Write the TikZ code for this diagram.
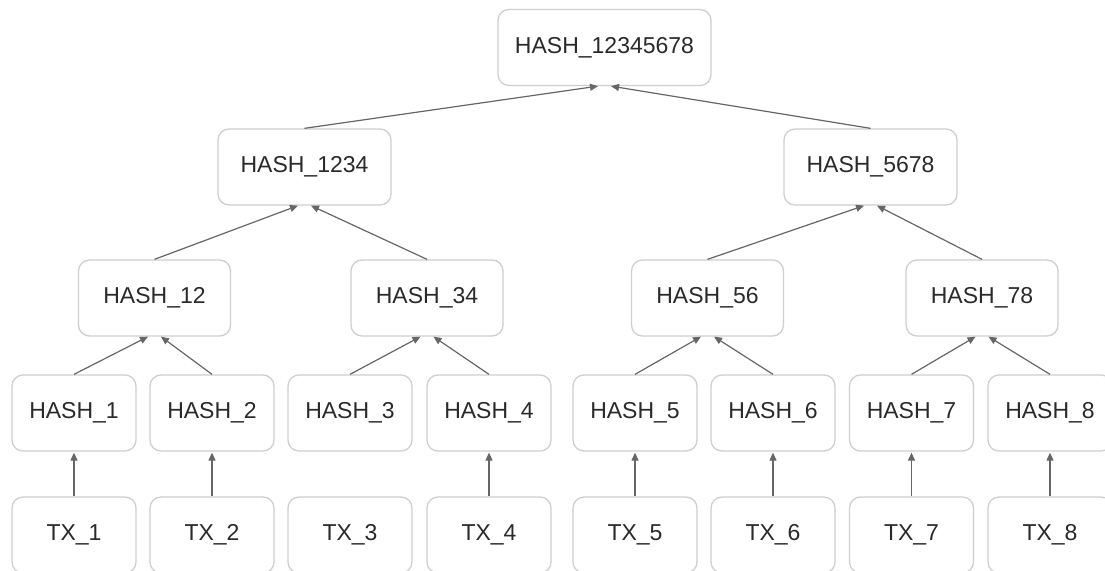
\documentclass[tikz,border=0pt]{standalone}
\usepackage{fontspec}
\setmainfont{Liberation Sans}
\usetikzlibrary{arrows.meta}
\definecolor{boxline}{HTML}{CFCFCF}
\definecolor{edgeline}{HTML}{666666}
\definecolor{txt}{HTML}{2A2A2A}
\begin{document}
\begin{tikzpicture}[x=1pt,y=-1pt,
  hbox/.style={draw=boxline,line width=1.3pt,rounded corners=11pt,fill=white,
    inner sep=0pt,minimum height=76pt,text=txt,font=\fontsize{23}{27}\selectfont},
  lvl0/.style={hbox,minimum width=213pt},
  lvl1/.style={hbox,minimum width=173pt},
  lvl2/.style={hbox,minimum width=152pt},
  lvl3/.style={hbox,minimum width=124pt},
  arr/.style={draw=edgeline,line width=1.2pt,-{Triangle[length=8pt,width=7pt]}}]
\useasboundingbox (0,0) rectangle (1105,570);
\fill[white] (0,0) rectangle (1105,570);
% nodes
\node[lvl0] (r) at (604.5,47.5) {HASH\_12345678};
\node[lvl1] (a) at (304.5,167) {HASH\_1234};
\node[lvl1] (b) at (870.5,167) {HASH\_5678};
\node[lvl2] (h12) at (154.5,298) {HASH\_12};
\node[lvl2] (h34) at (427,298) {HASH\_34};
\node[lvl2] (h56) at (707.5,298) {HASH\_56};
\node[lvl2] (h78) at (982,298) {HASH\_78};
\foreach \i/\x in {1/74,2/212,3/350,4/489,5/635,6/773,7/911.5,8/1050}{
  \node[lvl3] (h\i) at (\x,413) {HASH\_\i};
  \node[lvl3] (t\i) at (\x,535) {TX\_\i};
}
% edges
\draw[arr] (a.north) -- ([xshift=-6.5pt]r.south);
\draw[arr] (b.north) -- ([xshift=6.5pt]r.south);
\draw[arr] (h12.north) -- ([xshift=-6.5pt]a.south);
\draw[arr] (h34.north) -- ([xshift=6.5pt]a.south);
\draw[arr] (h56.north) -- ([xshift=-6.5pt]b.south);
\draw[arr] (h78.north) -- ([xshift=6.5pt]b.south);
\draw[arr] (h1.north) -- ([xshift=-6.5pt]h12.south);
\draw[arr] (h2.north) -- ([xshift=6.5pt]h12.south);
\draw[arr] (h3.north) -- ([xshift=-6.5pt]h34.south);
\draw[arr] (h4.north) -- ([xshift=6.5pt]h34.south);
\draw[arr] (h5.north) -- ([xshift=-6.5pt]h56.south);
\draw[arr] (h6.north) -- ([xshift=6.5pt]h56.south);
\draw[arr] (h7.north) -- ([xshift=-6.5pt]h78.south);
\draw[arr] (h8.north) -- ([xshift=6.5pt]h78.south);
\foreach \i in {1,2,4,5,6,7,8}{
  \draw[arr] (t\i.north) -- ([yshift=-1pt]h\i.south);
}
\end{tikzpicture}
\end{document}
